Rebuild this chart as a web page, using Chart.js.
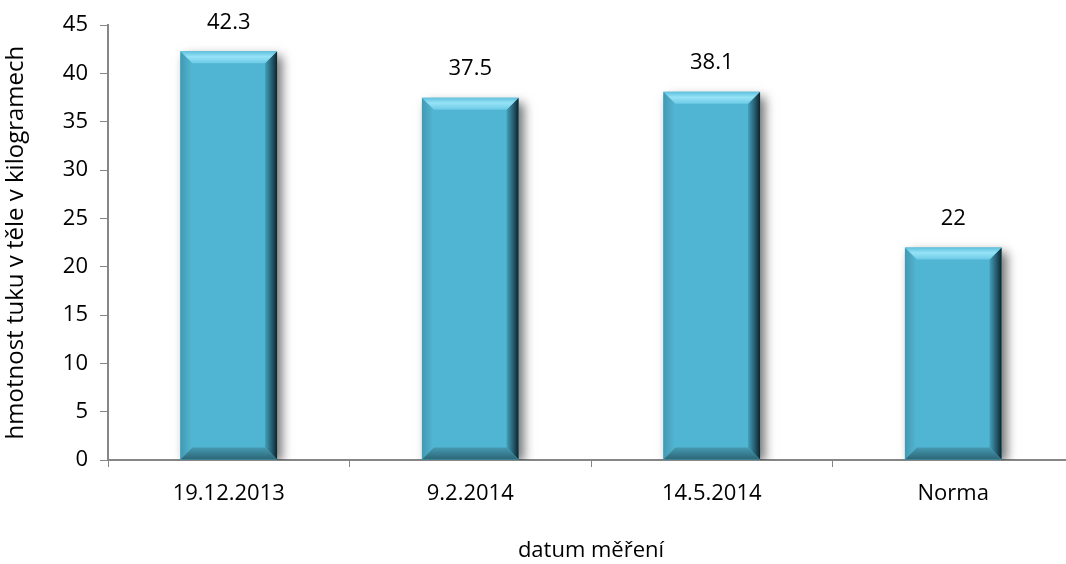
<!DOCTYPE html>
<html>
<head>
<meta charset="utf-8">
<script src="https://cdn.jsdelivr.net/npm/chart.js@4"></script>
<style>
  html, body { margin: 0; padding: 0; background: #fff; overflow: hidden; }
  #wrap { width: 1080px; height: 564px; }
</style>
</head>
<body>
<div id="wrap"><canvas id="fatChart" width="1080" height="564"></canvas></div>
<script>
var categories = ['19.12.2013', '9.2.2014', '14.5.2014', 'Norma'];
var fatKg = [42.3, 37.5, 38.1, 22];
var yMin = 0;
var yMax = 45;
var yStep = 5;

var axisGray = '#868686';
var fontFamily = '"Open Sans", "Noto Sans", sans-serif';

// soft shadow on the right side of each bar, drawn before the bars
var barShadow = {
    id: 'barShadow',
    beforeDatasetsDraw: function(chart) {
        var ctx = chart.ctx;
        var area = chart.chartArea;
        ctx.save();
        ctx.beginPath();
        ctx.rect(area.left, area.top - 20, area.right - area.left, area.bottom - area.top + 20);
        ctx.clip();
        chart.getDatasetMeta(0).data.forEach(function(bar) {
            var half = bar.width / 2;
            ctx.shadowColor = 'rgba(0,0,0,0.55)';
            ctx.shadowBlur = 10;
            ctx.shadowOffsetX = 5;
            ctx.shadowOffsetY = 2;
            ctx.fillStyle = '#4fb4d2';
            ctx.fillRect(bar.x - half, bar.y + 3, bar.width, bar.base - bar.y - 3);
        });
        ctx.restore();
    }
};

// bevelled edges over the flat bars, plus the value above each bar
var barBevel = {
    id: 'barBevel',
    afterDatasetsDraw: function(chart) {
        var ctx = chart.ctx;
        var b = 12;
        var values = chart.data.datasets[0].data;
        chart.getDatasetMeta(0).data.forEach(function(bar, i) {
            var L = bar.x - bar.width / 2;
            var R = bar.x + bar.width / 2;
            var T = bar.y;
            var B = bar.base;
            var g;

            // left face
            g = ctx.createLinearGradient(L, 0, L + b, 0);
            g.addColorStop(0, '#4299b2');
            g.addColorStop(1, '#53b7d4');
            ctx.fillStyle = g;
            poly(ctx, [[L, T], [L + b, T + b], [L + b, B - b], [L, B]]);

            // right face
            g = ctx.createLinearGradient(R - b, 0, R, 0);
            g.addColorStop(0, '#429fba');
            g.addColorStop(0.6, '#23586a');
            g.addColorStop(1, '#0d2329');
            ctx.fillStyle = g;
            poly(ctx, [[R, T], [R - b, T + b], [R - b, B - b], [R, B]]);

            // top face
            g = ctx.createLinearGradient(0, T, 0, T + b);
            g.addColorStop(0, '#5fc0dc');
            g.addColorStop(0.45, '#96e3f7');
            g.addColorStop(1, '#6ccae5');
            ctx.fillStyle = g;
            poly(ctx, [[L, T], [R, T], [R - b, T + b], [L + b, T + b]]);

            // bottom face
            g = ctx.createLinearGradient(0, B - b, 0, B);
            g.addColorStop(0, '#4599b1');
            g.addColorStop(1, '#2c6676');
            ctx.fillStyle = g;
            poly(ctx, [[L, B], [R, B], [R - b, B - b], [L + b, B - b]]);

            ctx.fillStyle = '#000';
            ctx.font = '22px ' + fontFamily;
            ctx.textAlign = 'center';
            ctx.textBaseline = 'middle';
            ctx.fillText(String(values[i]), bar.x, T - 29);
        });
    }
};

function poly(ctx, pts) {
    ctx.beginPath();
    ctx.moveTo(pts[0][0], pts[0][1]);
    for (var i = 1; i < pts.length; i++) {
        ctx.lineTo(pts[i][0], pts[i][1]);
    }
    ctx.closePath();
    ctx.fill();
}

var ctx = document.getElementById('fatChart');
var fatChart = new Chart(ctx, {
    type: 'bar',
    data: {
        labels: categories,
        datasets: [{
            data: fatKg,
            backgroundColor: '#50b5d3',
            borderWidth: 0,
            barPercentage: 0.8,
            categoryPercentage: 0.5
        }]
    },
    options: {
        responsive: false,
        animation: false,
        events: [],
        layout: { padding: { top: 25, right: 6, left: 0, bottom: 0 } },
        plugins: {
            legend: { display: false },
            tooltip: { enabled: false }
        },
        scales: {
            x: {
                afterFit: function(scale) { scale.height = 104; },
                grid: {
                    offset: true,
                    drawOnChartArea: false,
                    drawTicks: true,
                    tickLength: 7,
                    color: axisGray
                },
                border: { color: axisGray, width: 2 },
                ticks: {
                    color: '#000',
                    padding: 14,
                    font: { family: fontFamily, size: 22 }
                },
                title: {
                    display: true,
                    text: 'datum měření',
                    color: '#000',
                    padding: { top: 0, bottom: 0 },
                    font: { family: fontFamily, size: 22 }
                }
            },
            y: {
                min: yMin,
                max: yMax,
                afterFit: function(scale) { scale.width = 108; },
                grid: {
                    drawOnChartArea: false,
                    drawTicks: true,
                    tickLength: 8,
                    color: axisGray
                },
                border: { color: axisGray, width: 2 },
                ticks: {
                    stepSize: yStep,
                    color: '#000',
                    padding: 12,
                    font: { family: fontFamily, size: 22 }
                },
                title: {
                    display: true,
                    text: 'hmotnost tuku v těle v kilogramech',
                    color: '#000',
                    padding: { top: 2, bottom: 0 },
                    font: { family: fontFamily, size: 24 }
                }
            }
        }
    },
    plugins: [barShadow, barBevel]
});
</script>
</body>
</html>
